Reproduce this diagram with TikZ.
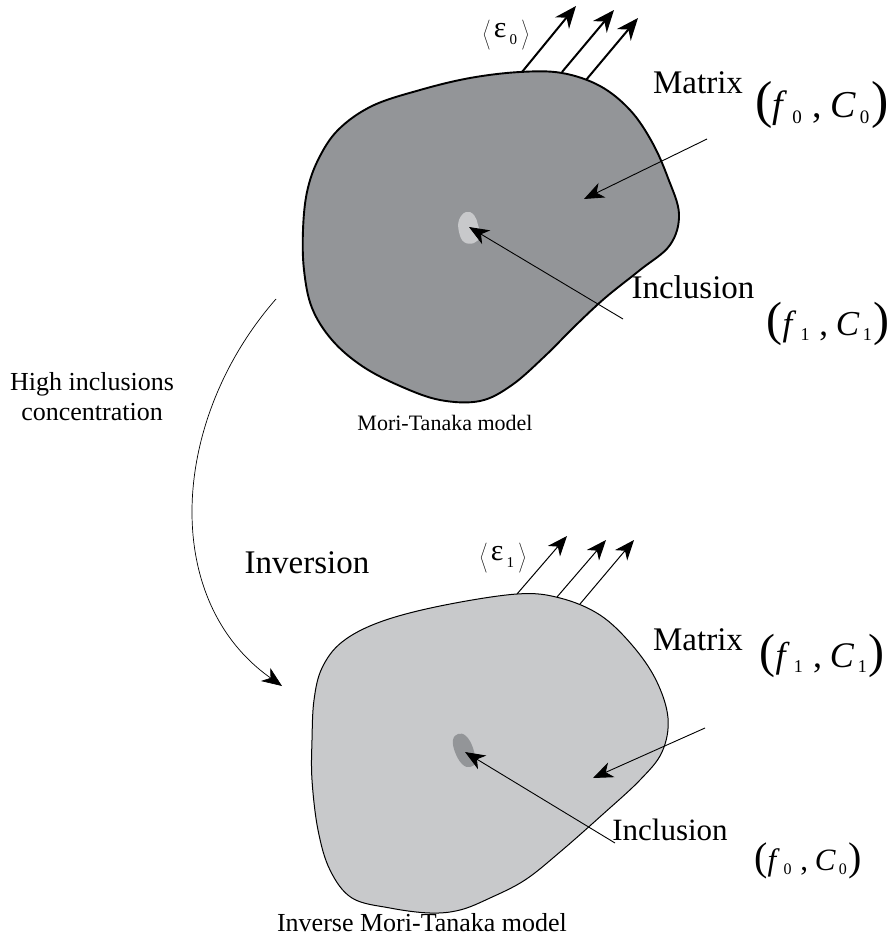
\documentclass[tikz,border=0pt]{standalone}
\usepackage{fontspec}
\setmainfont{Liberation Serif}
\usetikzlibrary{arrows.meta}
\definecolor{darkblob}{HTML}{939598}
\definecolor{lightblob}{HTML}{C8C9CB}
\newcommand\myang[1]{$\left\langle\vrule height 17pt depth 17pt width 0pt\right.$\kern2pt{\fontsize{30}{30}\selectfont ε}\kern3pt\raisebox{-7pt}{\fontsize{15}{15}\selectfont #1}\kern3pt$\left.\vrule height 17pt depth 17pt width 0pt\right\rangle$}
% #1 letter size, #2 paren size, #3 subscript size, #4 sub of f, #5 sub of C
\newcommand\mypair[5]{{\fontsize{#2}{#2}\selectfont(}\kern-0.05em{\fontsize{#1}{#1}\selectfont\kern0.02em\textit{f}\kern0.12em\raisebox{-0.16em}{\fontsize{#3}{#3}\selectfont #4}\kern0.28em,\kern0.22em\textit{C}\kern0.1em\raisebox{-0.16em}{\fontsize{#3}{#3}\selectfont #5}\kern0.05em}{\fontsize{#2}{#2}\selectfont)}}
\begin{document}
\begin{tikzpicture}[x=1pt,y=-1pt,
 thickarr/.style={line width=2pt,-{Stealth[length=22pt,width=18pt,inset=7pt]}},
 thinarr/.style={line width=1pt,-{Stealth[length=20pt,width=16pt,inset=6pt]}},
 ptr/.style={line width=0.9pt,-{Stealth[length=20pt,width=16pt,inset=6pt]}},
 bigtxt/.style={font=\fontsize{33}{36}\selectfont, inner sep=0pt, anchor=base},
 smalltxt/.style={font=\fontsize{22}{26}\selectfont, inner sep=0pt, anchor=base},
 pairtxt/.style={inner sep=0pt, anchor=base},
 ]
\useasboundingbox (0,0) rectangle (895,942);
% top blob
\draw[line width=1.9pt, fill=darkblob] plot[smooth cycle, tension=0.6] coordinates {(420,90) (470,78) (520,72) (562,73) (600,86) (630,110) (652,142) (668,178) (679,214) (670,245) (640,270) (605,298) (575,326) (545,356) (512,385) (480,401) (440,400) (400,386) (362,366) (332,340) (312,308) (304,270) (303,230) (307,192) (318,160) (338,130) (372,106)};
% bottom blob
\draw[line width=1pt, fill=lightblob] plot[smooth cycle, tension=0.6] coordinates {(380,622) (440,606) (517,594) (560,598) (600,615) (632,645) (656,680) (668,718) (662,752) (640,780) (602,815) (560,852) (525,880) (490,898) (460,910) (430,913) (390,908) (352,898) (330,870) (318,830) (312,780) (312,740) (314,700) (322,668) (342,642)};
% inclusions
\fill[lightblob] plot[smooth cycle, tension=0.7] coordinates {(466,212) (474,215) (478,225) (480,236) (474,243) (464,242) (459,232) (459,220)};
\fill[darkblob] plot[smooth cycle, tension=0.7] coordinates {(458,734) (466,736) (473,748) (475,762) (470,767) (462,764) (455,752) (453,740)};
% coordinates
\coordinate (ta1) at (522,72); \coordinate (tb1) at (576,6);
\coordinate (ta2) at (562,72); \coordinate (tb2) at (614,10);
\coordinate (ta3) at (586,80); \coordinate (tb3) at (638,18);
\coordinate (ba1) at (517,594); \coordinate (bb1) at (567,536);
\coordinate (ba2) at (557,597); \coordinate (bb2) at (606,540);
\coordinate (ba3) at (580,604); \coordinate (bb3) at (634,540);
\coordinate (tmS) at (707,139); \coordinate (tmE) at (584,199);
\coordinate (tiS) at (623,319); \coordinate (tiE) at (469,227);
\coordinate (bmS) at (705,728); \coordinate (bmE) at (593,778);
\coordinate (biS) at (615,843); \coordinate (biE) at (465,752);
\coordinate (cS) at (276,299); \coordinate (cE) at (282,686);
% strain arrows
\draw[thickarr] (ta1) -- (tb1);
\draw[thickarr] (ta2) -- (tb2);
\draw[thickarr] (ta3) -- (tb3);
\draw[thinarr] (ba1) -- (bb1);
\draw[thinarr] (ba2) -- (bb2);
\draw[thinarr] (ba3) -- (bb3);
% pointers
\draw[ptr] (tmS) -- (tmE);
\draw[ptr] (tiS) -- (tiE);
\draw[ptr] (bmS) -- (bmE);
\draw[ptr] (biS) -- (biE);
% curved arrow
\draw[line width=0.7pt,-{Stealth[length=20pt,width=16pt,inset=6pt]}] (cS) .. controls (170,420) and (160,600) .. (cE);
% labels
\node[inner sep=0pt] (eps0) at (506,37) {\myang{0}};
\node[inner sep=0pt] (eps1) at (503,560) {\myang{1}};
\node[bigtxt] (mat0) at (698,93) {Matrix};
\node[pairtxt] (p0) at (822,117) {\mypair{38}{52}{19}{0}{0}};
\node[bigtxt] (inc0) at (693,298) {Inclusion};
\node[pairtxt] (p1) at (828,335) {\mypair{35}{48}{18}{1}{1}};
\node[inner sep=0pt, font=\fontsize{26}{30}\selectfont, align=center] (hic) at (92,397) {High inclusions\\concentration};
\node[smalltxt] (mt) at (445,430) {Mori-Tanaka model};
\node[bigtxt] (inv) at (307,573) {Inversion};
\node[bigtxt] (mat1) at (698,650) {Matrix};
\node[pairtxt] (p2) at (822,667) {\mypair{36}{48}{18}{1}{1}};
\node[bigtxt, font=\fontsize{31}{34}\selectfont] (inc1) at (670,840) {Inclusion};
\node[pairtxt] (p3) at (808,870) {\mypair{31}{40}{16}{0}{0}};
\node[smalltxt, font=\fontsize{26}{30}\selectfont] (imt) at (422,931) {Inverse Mori-Tanaka model};
\end{tikzpicture}
\end{document}
